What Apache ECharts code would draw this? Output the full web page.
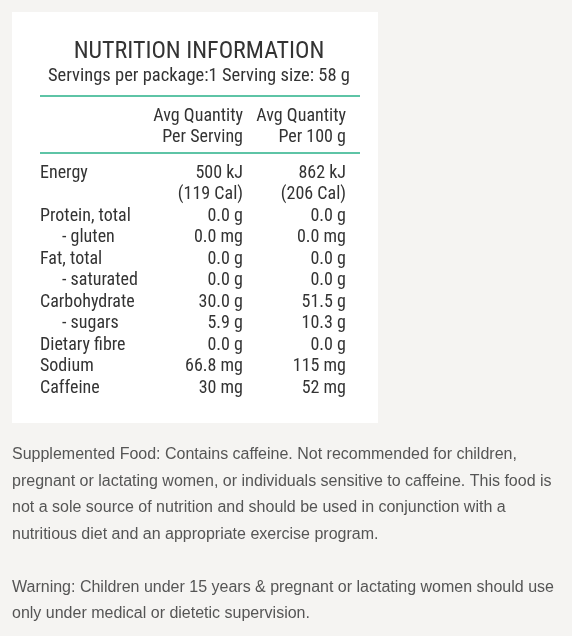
<!DOCTYPE html>
<html><head><meta charset="utf-8">
<script src="https://cdn.jsdelivr.net/npm/echarts@6/dist/echarts.min.js"></script>
<style>html,body{margin:0;background:#f5f4f2}#c{width:572px;height:636px}</style>
</head><body><div id="c"></div>
<script>
const title = "NUTRITION INFORMATION";
const subtitle = "Servings per package:1 Serving size: 58 g";
const headers1 = ["Avg Quantity", "Per Serving"];
const headers2 = ["Avg Quantity", "Per 100 g"];
const nutrients = ["Energy", "", "Protein, total", "  - gluten", "Fat, total", "  - saturated", "Carbohydrate", "  - sugars", "Dietary fibre", "Sodium", "Caffeine"];
const perServing = ["500 kJ", "(119 Cal)", "0.0 g", "0.0 mg", "0.0 g", "0.0 g", "30.0 g", "5.9 g", "0.0 g", "66.8 mg", "30 mg"];
const per100g = ["862 kJ", "(206 Cal)", "0.0 g", "0.0 mg", "0.0 g", "0.0 g", "51.5 g", "10.3 g", "0.0 g", "115 mg", "52 mg"];
const notes = [
 "Supplemented Food: Contains caffeine. Not recommended for children,",
 "pregnant or lactating women, or individuals sensitive to caffeine. This food is",
 "not a sole source of nutrition and should be used in conjunction with a",
 "nutritious diet and an appropriate exercise program.",
 "",
 "Warning: Children under 15 years & pregnant or lactating women should use",
 "only under medical or dietetic supervision."
];
const F = '"Liberation Sans Narrow","Roboto Condensed","DejaVu Sans Condensed",sans-serif';
const col = '#333';
const g = [];
g.push({type:'rect',shape:{x:12,y:12,width:366,height:411},style:{fill:'#fff'}});
g.push({type:'text',x:199,y:52,style:{text:title,font:'24px '+F,fill:col,align:'center',verticalAlign:'middle'}});
g.push({type:'text',x:199,y:76,style:{text:subtitle,font:'18.5px '+F,fill:col,align:'center',verticalAlign:'middle'}});
[96,153].forEach(y=>g.push({type:'line',shape:{x1:40,y1:y,x2:360,y2:y},style:{stroke:'#5ec4a6',lineWidth:2}}));
headers1.forEach((t,i)=>g.push({type:'text',x:243,y:116+i*21,style:{text:t,font:'18px '+F,fill:col,align:'right',verticalAlign:'middle'}}));
headers2.forEach((t,i)=>g.push({type:'text',x:346,y:116+i*21,style:{text:t,font:'18px '+F,fill:col,align:'right',verticalAlign:'middle'}}));
nutrients.forEach((n,i)=>{
  const y=173+i*21.5;
  const sub=n.startsWith('  ');
  g.push({type:'text',x:sub?62:40,y:y,style:{text:n.trim(),font:'18px '+F,fill:col,align:'left',verticalAlign:'middle'}});
  g.push({type:'text',x:243,y:y,style:{text:perServing[i],font:'18px '+F,fill:col,align:'right',verticalAlign:'middle'}});
  g.push({type:'text',x:346,y:y,style:{text:per100g[i],font:'18px '+F,fill:col,align:'right',verticalAlign:'middle'}});
});
notes.forEach((t,i)=>{
  if(!t) return;
  g.push({type:'text',x:12,y:455+i*26.5,style:{text:t,font:'16px "Helvetica","Liberation Sans",sans-serif',fill:'#555',align:'left',verticalAlign:'middle'}});
});
const ch = echarts.init(document.getElementById('c'));
ch.setOption({backgroundColor:'#f5f4f2',graphic:g});
</script></body></html>
